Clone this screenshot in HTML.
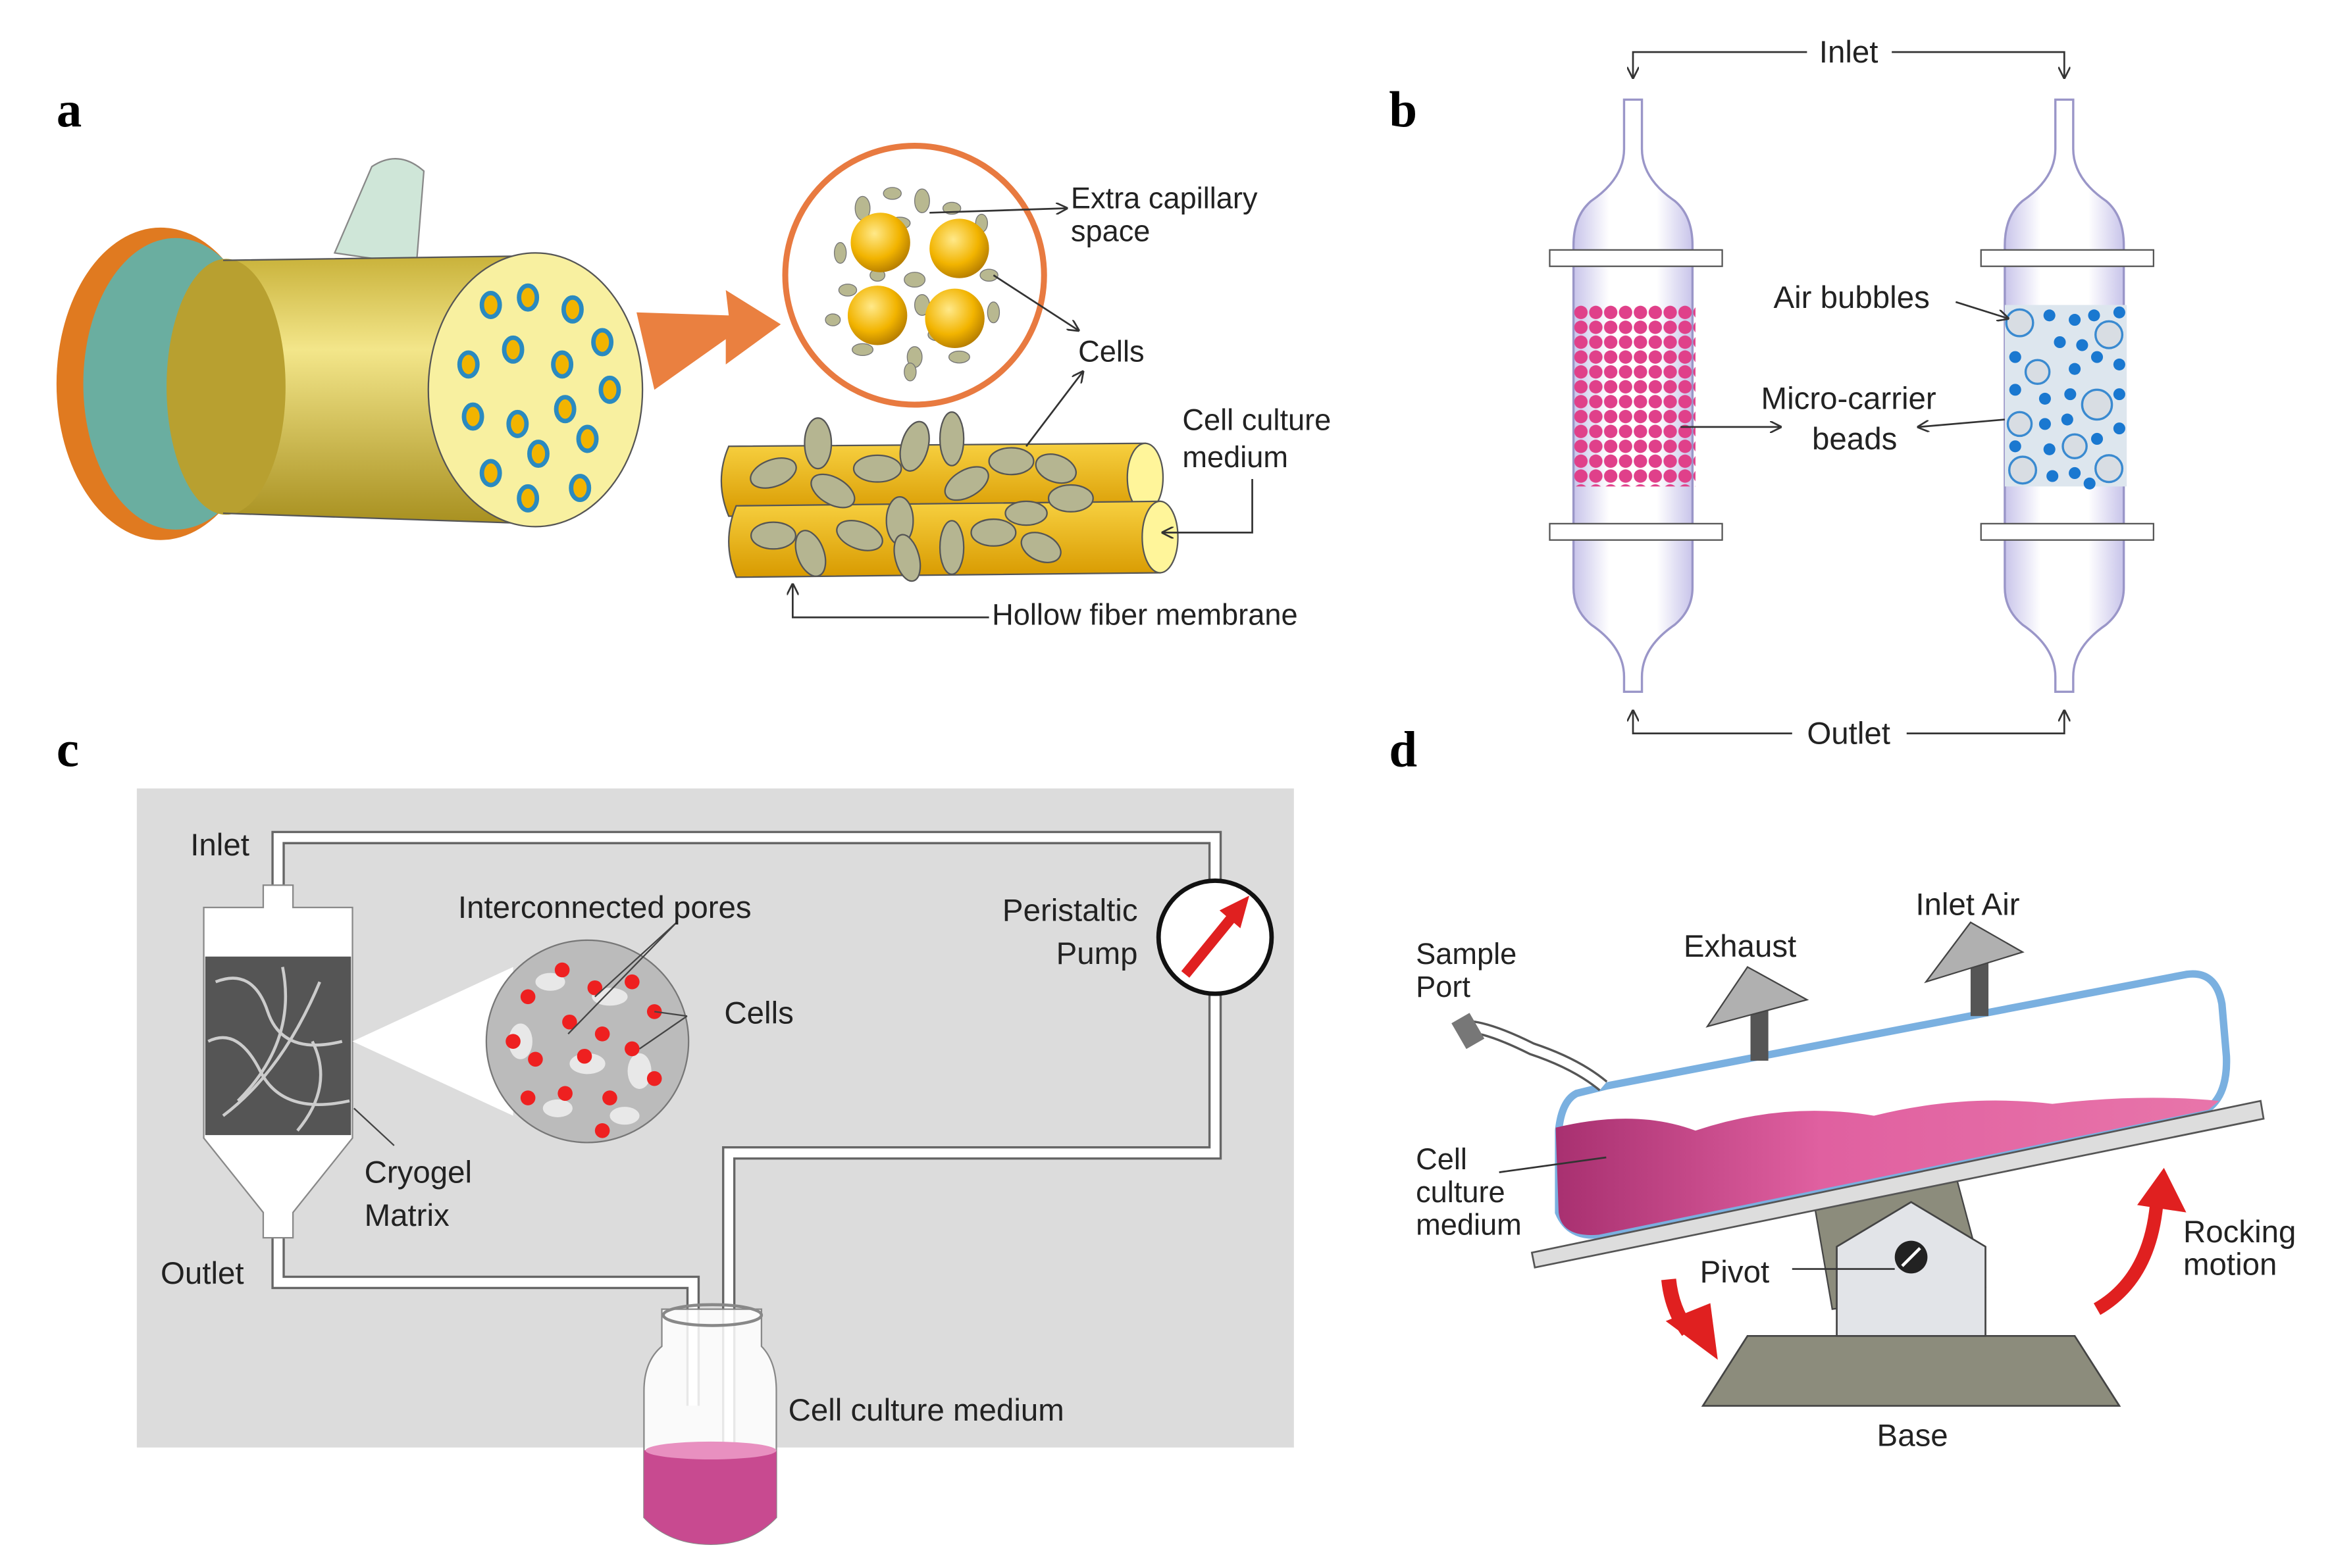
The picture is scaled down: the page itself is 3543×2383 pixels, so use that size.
<!DOCTYPE html>
<html><head><meta charset="utf-8"><style>
html,body{margin:0;padding:0;background:#fff}
svg{display:block}
text{font-family:"Liberation Sans",sans-serif;fill:#222}
.lb{font-family:"Liberation Serif",serif;font-weight:bold;font-size:34px;fill:#000}
</style></head><body>
<svg width="3543" height="2383" viewBox="0 0 1568 1054" preserveAspectRatio="none" xmlns="http://www.w3.org/2000/svg">
<defs>
<linearGradient id="cyl" x1="0" y1="0" x2="0" y2="1">
<stop offset="0" stop-color="#c9b23a"/><stop offset="0.35" stop-color="#f3e68a"/><stop offset="1" stop-color="#a89020"/></linearGradient>
<radialGradient id="ball" cx="0.4" cy="0.35" r="0.7"><stop offset="0" stop-color="#ffe98a"/><stop offset="0.6" stop-color="#f2b400"/><stop offset="1" stop-color="#b07800"/></radialGradient>
<linearGradient id="fib" x1="0" y1="0" x2="0" y2="1"><stop offset="0" stop-color="#f7d040"/><stop offset="1" stop-color="#d89a00"/></linearGradient>
<linearGradient id="col" x1="0" y1="0" x2="1" y2="0"><stop offset="0" stop-color="#c8c4ea"/><stop offset="0.3" stop-color="#fff"/><stop offset="0.7" stop-color="#fff"/><stop offset="1" stop-color="#c8c4ea"/></linearGradient>
<linearGradient id="pink" x1="0" y1="0" x2="1" y2="0"><stop offset="0" stop-color="#a83070"/><stop offset="0.4" stop-color="#e060a0"/><stop offset="1" stop-color="#e875aa"/></linearGradient>
<marker id="ar" markerWidth="8" markerHeight="8" refX="7" refY="4" orient="auto" markerUnits="userSpaceOnUse"><path d="M0,0 L8,4 L0,8" fill="none" stroke="#333" stroke-width="1.2"/></marker>
</defs>

<text class="lb" x="38" y="85">a</text>
<ellipse cx="108" cy="258" rx="70" ry="105" fill="#e07a20"/>
<ellipse cx="118" cy="258" rx="62" ry="98" fill="#6aaea0"/>
<path d="M225,170 L250,112 Q268,100 285,115 L280,178 Z" fill="#cfe6d8" stroke="#888" stroke-width="1"/>
<path d="M150,175 L360,172 L360,352 L150,345 Q110,260 150,175 Z" fill="url(#cyl)"/>
<ellipse cx="152" cy="260" rx="40" ry="86" fill="#b8a030"/>
<path d="M150,175 L360,172 L360,352 L150,345" fill="none" stroke="#555" stroke-width="1"/>
<ellipse cx="360" cy="262" rx="72" ry="92" fill="#f8f0a0" stroke="#555" stroke-width="1"/>
<g fill="#f2b400" stroke="#2a8ac0" stroke-width="3">
<ellipse cx="330" cy="205" rx="6" ry="8"/><ellipse cx="355" cy="200" rx="6" ry="8"/><ellipse cx="385" cy="208" rx="6" ry="8"/>
<ellipse cx="315" cy="245" rx="6" ry="8"/><ellipse cx="345" cy="235" rx="6" ry="8"/><ellipse cx="378" cy="245" rx="6" ry="8"/><ellipse cx="405" cy="230" rx="6" ry="8"/>
<ellipse cx="318" cy="280" rx="6" ry="8"/><ellipse cx="348" cy="285" rx="6" ry="8"/><ellipse cx="380" cy="275" rx="6" ry="8"/><ellipse cx="410" cy="262" rx="6" ry="8"/>
<ellipse cx="330" cy="318" rx="6" ry="8"/><ellipse cx="362" cy="305" rx="6" ry="8"/><ellipse cx="395" cy="295" rx="6" ry="8"/>
<ellipse cx="355" cy="335" rx="6" ry="8"/><ellipse cx="390" cy="328" rx="6" ry="8"/>
</g>
<path d="M428,210 L490,212 L488,195 L525,218 L488,245 L488,228 L440,262 Z" fill="#ea8040"/>
<circle cx="615" cy="185" r="87" fill="#fff" stroke="#e87a40" stroke-width="4"/>
<g fill="#b8b890" stroke="#777" stroke-width="0.6">
<ellipse cx="580" cy="140" rx="5" ry="8"/><ellipse cx="600" cy="130" rx="6" ry="4"/><ellipse cx="620" cy="135" rx="5" ry="8"/><ellipse cx="640" cy="140" rx="6" ry="4"/><ellipse cx="565" cy="170" rx="4" ry="7"/><ellipse cx="570" cy="195" rx="6" ry="4"/><ellipse cx="615" cy="188" rx="7" ry="5"/><ellipse cx="620" cy="205" rx="5" ry="7"/><ellipse cx="665" cy="185" rx="6" ry="4"/><ellipse cx="668" cy="210" rx="4" ry="7"/><ellipse cx="580" cy="235" rx="7" ry="4"/><ellipse cx="615" cy="240" rx="5" ry="7"/><ellipse cx="645" cy="240" rx="7" ry="4"/><ellipse cx="605" cy="150" rx="7" ry="4"/><ellipse cx="560" cy="215" rx="5" ry="4"/><ellipse cx="630" cy="225" rx="6" ry="4"/><ellipse cx="660" cy="150" rx="4" ry="6"/><ellipse cx="590" cy="185" rx="5" ry="4"/><ellipse cx="612" cy="250" rx="4" ry="6"/>
</g>
<circle cx="592" cy="163" r="20" fill="url(#ball)"/><circle cx="645" cy="167" r="20" fill="url(#ball)"/>
<circle cx="590" cy="212" r="20" fill="url(#ball)"/><circle cx="642" cy="214" r="20" fill="url(#ball)"/>
<line x1="625" y1="143" x2="717" y2="140" stroke="#333" stroke-width="1.2" marker-end="url(#ar)"/>
<line x1="668" y1="185" x2="725" y2="222" stroke="#333" stroke-width="1.2" marker-end="url(#ar)"/>
<text x="720" y="140" font-size="20">Extra capillary</text>
<text x="720" y="162" font-size="20">space</text>
<text x="725" y="243" font-size="20">Cells</text>
<path d="M490,300 L770,298 L770,345 L490,347 Q480,323 490,300 Z" fill="url(#fib)" stroke="#555" stroke-width="1"/>
<ellipse cx="770" cy="321" rx="12" ry="23" fill="#fff59a" stroke="#555" stroke-width="1"/>
<path d="M495,340 L780,337 L780,385 L495,388 Q485,364 495,340 Z" fill="url(#fib)" stroke="#555" stroke-width="1"/>
<ellipse cx="780" cy="361" rx="12" ry="24" fill="#fff59a" stroke="#555" stroke-width="1"/>
<g fill="#b5b591" stroke="#555" stroke-width="1">
<ellipse cx="520" cy="318" rx="16" ry="9" transform="rotate(-20 520 318)"/><ellipse cx="550" cy="298" rx="9" ry="17"/><ellipse cx="560" cy="330" rx="16" ry="9" transform="rotate(30 560 330)"/><ellipse cx="590" cy="315" rx="16" ry="9"/><ellipse cx="615" cy="300" rx="9" ry="17" transform="rotate(15 615 300)"/><ellipse cx="640" cy="295" rx="8" ry="18"/><ellipse cx="650" cy="325" rx="16" ry="9" transform="rotate(-30 650 325)"/><ellipse cx="680" cy="310" rx="15" ry="9"/><ellipse cx="710" cy="315" rx="14" ry="9" transform="rotate(20 710 315)"/><ellipse cx="720" cy="335" rx="15" ry="9"/>
<ellipse cx="520" cy="360" rx="15" ry="9"/><ellipse cx="545" cy="372" rx="9" ry="16" transform="rotate(-20 545 372)"/><ellipse cx="578" cy="360" rx="16" ry="9" transform="rotate(20 578 360)"/><ellipse cx="605" cy="350" rx="9" ry="16"/><ellipse cx="610" cy="375" rx="8" ry="16" transform="rotate(-15 610 375)"/><ellipse cx="640" cy="368" rx="8" ry="18"/><ellipse cx="668" cy="358" rx="15" ry="9"/><ellipse cx="700" cy="368" rx="14" ry="9" transform="rotate(25 700 368)"/><ellipse cx="690" cy="345" rx="14" ry="8"/>
</g>
<line x1="690" y1="300" x2="728" y2="250" stroke="#333" stroke-width="1.2" marker-end="url(#ar)"/>
<text x="795" y="289" font-size="20">Cell culture</text>
<text x="795" y="314" font-size="20">medium</text>
<polyline points="842,322 842,358 782,358" fill="none" stroke="#333" stroke-width="1.2" marker-end="url(#ar)"/>
<polyline points="665,415 533,415 533,393" fill="none" stroke="#333" stroke-width="1.2" marker-end="url(#ar)"/>
<text x="667" y="420" font-size="20">Hollow fiber membrane</text>

<text class="lb" x="934" y="85">b</text>
<text x="1243" y="42" font-size="21" text-anchor="middle">Inlet</text>
<polyline points="1215,35 1098,35 1098,52" fill="none" stroke="#333" stroke-width="1.2" marker-end="url(#ar)"/>
<polyline points="1272,35 1388,35 1388,52" fill="none" stroke="#333" stroke-width="1.2" marker-end="url(#ar)"/>
<text x="1243" y="500" font-size="21" text-anchor="middle">Outlet</text>
<polyline points="1205,493 1098,493 1098,478" fill="none" stroke="#333" stroke-width="1.2" marker-end="url(#ar)"/>
<polyline points="1282,493 1388,493 1388,478" fill="none" stroke="#333" stroke-width="1.2" marker-end="url(#ar)"/>
<g id="colA">
<path d="M1092,67 L1092,100 Q1092,120 1070,135 Q1058,145 1058,165 L1058,395 Q1058,410 1070,420 Q1092,435 1092,455 L1092,465 L1104,465 L1104,455 Q1104,435 1126,420 Q1138,410 1138,395 L1138,165 Q1138,145 1126,135 Q1104,120 1104,100 L1104,67 Z" fill="url(#col)" stroke="#9a96c8" stroke-width="1.5"/>
<rect x="1042" y="168" width="116" height="11" fill="#fff" stroke="#555" stroke-width="1"/>
<rect x="1042" y="352" width="116" height="11" fill="#fff" stroke="#555" stroke-width="1"/>
</g>
<use href="#colA" transform="translate(290,0)"/>
<pattern id="pp" x="1058" y="205" width="10" height="10" patternUnits="userSpaceOnUse"><circle cx="5" cy="5" r="4.5" fill="#e0408a"/></pattern>
<rect x="1058" y="205" width="82" height="122" fill="url(#pp)"/>
<rect x="1348" y="205" width="82" height="122" fill="#dde6ee"/>
<g fill="#d8dde3" stroke="#3a8ad0" stroke-width="1.5">
<circle cx="1358" cy="217" r="9"/><circle cx="1418" cy="225" r="9"/><circle cx="1370" cy="250" r="8"/><circle cx="1410" cy="272" r="10"/><circle cx="1358" cy="285" r="8"/><circle cx="1395" cy="300" r="8"/><circle cx="1360" cy="316" r="9"/><circle cx="1418" cy="315" r="9"/>
</g>
<g fill="#1a78d0">
<circle cx="1378" cy="212" r="4"/><circle cx="1395" cy="215" r="4"/><circle cx="1408" cy="212" r="4"/><circle cx="1425" cy="210" r="4"/><circle cx="1385" cy="230" r="4"/><circle cx="1400" cy="232" r="4"/><circle cx="1355" cy="240" r="4"/><circle cx="1395" cy="248" r="4"/><circle cx="1425" cy="245" r="4"/><circle cx="1410" cy="240" r="4"/><circle cx="1355" cy="262" r="4"/><circle cx="1375" cy="268" r="4"/><circle cx="1392" cy="265" r="4"/><circle cx="1425" cy="265" r="4"/><circle cx="1375" cy="285" r="4"/><circle cx="1390" cy="282" r="4"/><circle cx="1425" cy="288" r="4"/><circle cx="1410" cy="295" r="4"/><circle cx="1355" cy="300" r="4"/><circle cx="1378" cy="302" r="4"/><circle cx="1380" cy="320" r="4"/><circle cx="1395" cy="318" r="4"/><circle cx="1405" cy="325" r="4"/>
</g>
<text x="1245" y="207" font-size="21" text-anchor="middle">Air bubbles</text>
<line x1="1315" y1="203" x2="1350" y2="214" stroke="#333" stroke-width="1.2" marker-end="url(#ar)"/>
<text x="1243" y="275" font-size="21" text-anchor="middle">Micro-carrier</text>
<text x="1247" y="302" font-size="21" text-anchor="middle">beads</text>
<line x1="1130" y1="287" x2="1197" y2="287" stroke="#333" stroke-width="1.2" marker-end="url(#ar)"/>
<line x1="1348" y1="282" x2="1290" y2="287" stroke="#333" stroke-width="1.2" marker-end="url(#ar)"/>

<text class="lb" x="38" y="515">c</text>
<rect x="92" y="530" width="778" height="443" fill="#dcdcdc"/>
<g fill="none" stroke="#666" stroke-width="9"><polyline points="187,600 187,563 817,563 817,775 490,775 490,1010"/><polyline points="187,815 187,862 466,862 466,945"/></g>
<g fill="none" stroke="#fff" stroke-width="6"><polyline points="187,600 187,563 817,563 817,775 490,775 490,1010"/><polyline points="187,815 187,862 466,862 466,945"/></g>
<path d="M177,595 L177,610 L137,610 L137,765 L177,815 L177,832 L197,832 L197,815 L237,765 L237,610 L197,610 L197,595 Z" fill="#fff" stroke="#888" stroke-width="1"/>
<rect x="138" y="643" width="98" height="120" fill="#555"/>
<g stroke="#ccc" stroke-width="2" fill="none"><path d="M145,660 Q170,650 180,680 T230,700"/><path d="M140,700 Q160,690 175,720 T235,740"/><path d="M150,750 Q190,720 215,660"/><path d="M190,650 Q200,700 160,740"/><path d="M210,700 Q225,730 200,760"/></g>
<polygon points="237,700 345,650 345,750" fill="#fff"/>
<circle cx="395" cy="700" r="68" fill="#bbb" stroke="#777" stroke-width="1"/>
<g fill="#e8e8e8"><ellipse cx="370" cy="660" rx="10" ry="6"/><ellipse cx="410" cy="670" rx="12" ry="6"/><ellipse cx="350" cy="700" rx="8" ry="12"/><ellipse cx="395" cy="715" rx="12" ry="7"/><ellipse cx="430" cy="720" rx="8" ry="12"/><ellipse cx="375" cy="745" rx="10" ry="6"/><ellipse cx="420" cy="750" rx="10" ry="6"/></g>
<g fill="#ee2020"><circle cx="378" cy="652" r="5"/><circle cx="400" cy="664" r="5"/><circle cx="355" cy="670" r="5"/><circle cx="425" cy="660" r="5"/><circle cx="383" cy="687" r="5"/><circle cx="345" cy="700" r="5"/><circle cx="405" cy="695" r="5"/><circle cx="440" cy="680" r="5"/><circle cx="360" cy="712" r="5"/><circle cx="393" cy="710" r="5"/><circle cx="425" cy="705" r="5"/><circle cx="380" cy="735" r="5"/><circle cx="410" cy="738" r="5"/><circle cx="440" cy="725" r="5"/><circle cx="405" cy="760" r="5"/><circle cx="355" cy="738" r="5"/></g>
<g stroke="#444" stroke-width="1"><line x1="455" y1="620" x2="400" y2="670"/><line x1="455" y1="620" x2="382" y2="695"/><line x1="462" y1="683" x2="440" y2="680"/><line x1="462" y1="683" x2="430" y2="705"/><line x1="238" y1="745" x2="265" y2="770"/></g>
<text x="128" y="575" font-size="21">Inlet</text>
<text x="108" y="863" font-size="21">Outlet</text>
<text x="308" y="617" font-size="21">Interconnected pores</text>
<text x="487" y="688" font-size="21">Cells</text>
<text x="245" y="795" font-size="21">Cryogel</text>
<text x="245" y="824" font-size="21">Matrix</text>
<text x="765" y="619" font-size="21" text-anchor="end">Peristaltic</text>
<text x="765" y="648" font-size="21" text-anchor="end">Pump</text>
<circle cx="817" cy="630" r="38" fill="#fff" stroke="#111" stroke-width="3"/>
<line x1="797" y1="655" x2="828" y2="617" stroke="#e02020" stroke-width="7"/>
<polygon points="840,602 820,612 834,624" fill="#e02020"/>
<text x="530" y="955" font-size="21">Cell culture medium</text>
<path d="M450,880 L512,880 L512,905 Q522,915 522,935 L522,1020 Q505,1038 478,1038 Q450,1038 433,1020 L433,935 Q433,915 445,905 L445,880 Z" fill="#fff" fill-opacity="0.85" stroke="#888" stroke-width="1"/>
<ellipse cx="479" cy="884" rx="33" ry="7" fill="none" stroke="#888" stroke-width="2"/>
<path d="M433,975 Q478,965 522,975 L522,1020 Q505,1038 478,1038 Q450,1038 433,1020 Z" fill="#c84a90"/>
<ellipse cx="478" cy="975" rx="44" ry="6" fill="#e890c0"/>

<text class="lb" x="934" y="515">d</text>
<polygon points="1145,945 1425,945 1395,898 1175,898" fill="#8c8c7c" stroke="#444" stroke-width="1.2"/>
<polygon points="1220,810 1315,790 1335,865 1232,880" fill="#8c8c7c" stroke="#444" stroke-width="1"/>
<path d="M1235,898 L1235,838 L1285,808 L1335,838 L1335,898 Z" fill="#e2e4e8" stroke="#444" stroke-width="1.2"/>
<circle cx="1285" cy="845" r="11" fill="#222"/><line x1="1279" y1="851" x2="1291" y2="839" stroke="#fff" stroke-width="2"/>
<line x1="1205" y1="853" x2="1274" y2="853" stroke="#333" stroke-width="1.2"/>
<text x="1143" y="862" font-size="21">Pivot</text>
<text x="1262" y="972" font-size="21">Base</text>
<path d="M1060,735 Q1050,740 1048,760 L1048,815 Q1055,832 1075,830 L1485,745 Q1498,735 1497,710 L1494,675 Q1490,652 1470,655 L1080,730 Z" fill="#fff" stroke="#7ab0e0" stroke-width="5"/>
<path d="M1046,758 Q1100,745 1140,760 Q1200,740 1260,750 Q1320,735 1380,742 Q1440,735 1492,740 L1485,746 L1075,830 Q1050,832 1048,815 Z" fill="url(#pink)"/>
<polygon points="1030,842 1520,740 1522,752 1032,852" fill="#ddd" stroke="#555" stroke-width="1.2"/>
<path d="M985,690 Q1000,690 1030,705 Q1060,715 1078,730" fill="none" stroke="#555" stroke-width="9"/>
<path d="M985,690 Q1000,690 1030,705 Q1060,715 1078,730" fill="none" stroke="#fff" stroke-width="6"/>
<rect x="980" y="683" width="14" height="20" fill="#777" transform="rotate(-30 987 693)"/>
<rect x="1177" y="665" width="12" height="48" fill="#555"/>
<polygon points="1148,690 1175,650 1215,672" fill="#b0b0b0" stroke="#444" stroke-width="1"/>
<rect x="1325" y="635" width="12" height="48" fill="#555"/>
<polygon points="1295,660 1325,620 1360,640" fill="#b0b0b0" stroke="#444" stroke-width="1"/>
<text x="952" y="648" font-size="20">Sample</text>
<text x="952" y="670" font-size="20">Port</text>
<text x="1132" y="643" font-size="21">Exhaust</text>
<text x="1288" y="615" font-size="21">Inlet Air</text>
<text x="952" y="786" font-size="20">Cell</text>
<text x="952" y="808" font-size="20">culture</text>
<text x="952" y="830" font-size="20">medium</text>
<line x1="1008" y1="788" x2="1080" y2="778" stroke="#333" stroke-width="1.2"/>
<text x="1468" y="835" font-size="21">Rocking</text>
<text x="1468" y="857" font-size="21">motion</text>
<path d="M1122,860 Q1124,880 1135,895" fill="none" stroke="#e02020" stroke-width="10"/>
<polygon points="1120,888 1155,914 1150,876" fill="#e02020"/>
<path d="M1410,880 Q1445,860 1450,810" fill="none" stroke="#e02020" stroke-width="9"/>
<polygon points="1437,810 1455,785 1470,815" fill="#e02020"/>
</svg>
</body></html>
